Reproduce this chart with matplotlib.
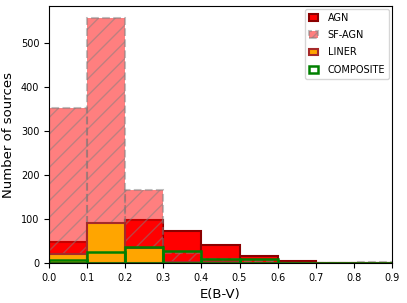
import numpy as np
import matplotlib
matplotlib.use("Agg")
import matplotlib.pyplot as plt

# E(B-V) bin edges and counts per class
bin_edges = [0.0, 0.1, 0.2, 0.3, 0.4, 0.5, 0.6, 0.7, 0.8, 0.9]
agn = [47, 65, 99, 72, 40, 16, 5, 0, 0]
sf_agn = [353, 557, 167, 22, 8, 4, 1, 0, 2]
liner = [21, 90, 35, 3, 2, 1, 0, 0, 0]
composite = [6, 26, 37, 27, 10, 10, 1, 0, 0]

left = np.array(bin_edges[:-1])
width = np.diff(bin_edges)

fig = plt.figure(figsize=(4.07, 3.03), dpi=100)
ax = fig.add_axes([0.1204, 0.132, 0.8427, 0.848])

ax.bar(left, agn, width=width, align='edge', color='red',
       edgecolor='darkred', linewidth=1.5, label='AGN')
ax.bar(left, sf_agn, width=width, align='edge', color='red', alpha=0.5,
       edgecolor='grey', linestyle='--', linewidth=1.5, hatch='//',
       label='SF-AGN')
ax.bar(left, liner, width=width, align='edge', color='orange',
       edgecolor='brown', linewidth=1.5, label='LINER')
ax.bar(left, composite, width=width, align='edge', fill=False,
       edgecolor='green', linewidth=1.8, label='COMPOSITE')

ax.set_xlim(0, 0.9)
ax.set_xticks(bin_edges)
ax.set_xlabel('E(B-V)', fontsize=9.5)
ax.set_ylabel('Number of sources', fontsize=9.5)
ax.tick_params(labelsize=7)
ax.legend(loc='upper right', fontsize=7, labelspacing=0.75,
          handlelength=0.9, handletextpad=1.0, borderaxespad=0.3)

fig.savefig('out.png', dpi=100)
